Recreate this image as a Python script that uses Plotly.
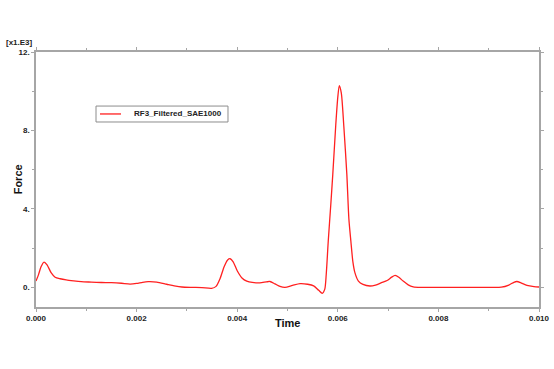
import plotly.graph_objects as go

time_s = [0.0000, 0.00005, 0.00010, 0.00016, 0.00022, 0.00030, 0.00038, 0.00048, 0.00060, 0.00075,
          0.00090, 0.00110, 0.00130, 0.00150, 0.00170, 0.00187, 0.00200, 0.00212, 0.00223, 0.00240,
          0.00260, 0.00275, 0.00290, 0.00310, 0.00330, 0.00349, 0.00358, 0.00366, 0.00374, 0.00381,
          0.00386, 0.00392, 0.00400, 0.00410, 0.00419, 0.00430, 0.00445, 0.00458, 0.00465, 0.00475,
          0.00485, 0.00495, 0.00510, 0.00525, 0.00540, 0.00552, 0.00562, 0.00569, 0.00574, 0.00577,
          0.00581, 0.00586, 0.00590, 0.00596, 0.00600, 0.00603, 0.00607, 0.00612, 0.00618, 0.00622,
          0.00626, 0.00630, 0.00634, 0.00641, 0.00650, 0.00664, 0.00675, 0.00687, 0.00698, 0.00707,
          0.00714, 0.00722, 0.00730, 0.00740, 0.00750, 0.00765, 0.00800, 0.00850, 0.00900, 0.00925,
          0.00940, 0.00950, 0.00956, 0.00965, 0.00976, 0.00990, 0.01000]
force_k = [0.32, 0.65, 1.05, 1.29, 1.15, 0.75, 0.52, 0.44, 0.38, 0.33,
           0.29, 0.27, 0.25, 0.24, 0.21, 0.17, 0.20, 0.26, 0.29, 0.27,
           0.16, 0.08, 0.02, 0.00, -0.01, -0.05, 0.05, 0.45, 1.05, 1.40,
           1.46, 1.30, 0.85, 0.47, 0.32, 0.25, 0.23, 0.28, 0.30, 0.18,
           0.05, 0.00, 0.10, 0.19, 0.16, 0.08, -0.15, -0.30, -0.10, 0.66,
           2.35, 4.20, 5.75, 8.30, 9.70, 10.29, 9.90, 8.20, 5.75, 3.50,
           2.35, 1.30, 0.75, 0.32, 0.15, 0.07, 0.12, 0.24, 0.35, 0.52,
           0.61, 0.50, 0.32, 0.13, 0.03, 0.00, 0.00, 0.00, 0.00, 0.01,
           0.12, 0.26, 0.30, 0.22, 0.10, 0.04, 0.02]

series_name = "RF3_Filtered_SAE1000"

AX = "#a6a6a6"
RED = "#ff2020"
FONT = "Liberation Sans, Arial, sans-serif"

fig = go.Figure()
fig.add_trace(go.Scatter(x=time_s, y=force_k, mode="lines", name=series_name, showlegend=False,
                         line=dict(color=RED, width=1.3, shape="spline", smoothing=0.7)))

fig.update_layout(
    width=554, height=369,
    margin=dict(l=36, r=15, t=52, b=62, autoexpand=False),
    paper_bgcolor="white", plot_bgcolor="white",
    showlegend=False,
    font=dict(family=FONT, size=8, color="#222222"),
)

fig.update_xaxes(range=[0, 0.01], tickmode="linear", tick0=0, dtick=0.002, tickformat=".3f",
                 automargin=False,
                 showgrid=False, zeroline=False, showline=True, linecolor=AX, linewidth=1.5,
                 mirror="ticks", ticks="outside", ticklen=3, tickcolor=AX,
                 tickfont=dict(family=FONT, size=8, color="#222222", weight="bold"),
                 minor=dict(dtick=0.001, ticks="outside", ticklen=2, tickcolor=AX))
fig.update_yaxes(range=[-1, 12], tickmode="linear", tick0=0, dtick=4, tickformat="d", ticksuffix=".",
                 automargin=False,
                 showgrid=False, zeroline=False, showline=True, linecolor=AX, linewidth=1.5,
                 mirror="ticks", ticks="outside", ticklen=3, tickcolor=AX,
                 tickfont=dict(family=FONT, size=8, color="#222222", weight="bold"),
                 minor=dict(dtick=2, tick0=0, ticks="outside", ticklen=2, tickcolor=AX))

# legend box (drawn as shapes + text)
fig.add_shape(type="rect", xref="paper", yref="paper", x0=0.1193, x1=0.3817, y0=0.7255, y1=0.788,
              line=dict(color="#8c8c8c", width=1), fillcolor="white", layer="above")
fig.add_shape(type="line", xref="paper", yref="paper", x0=0.1272, x1=0.169, y0=0.757, y1=0.757,
              line=dict(color=RED, width=1.3), layer="above")
fig.add_annotation(text=series_name, xref="paper", yref="paper", x=0.190, y=0.757,
                   xanchor="left", yanchor="middle", showarrow=False,
                   font=dict(family=FONT, size=8, color="#222222", weight="bold"))

fig.add_annotation(text="Time", xref="paper", yref="paper", x=0.5, y=-0.063, yanchor="middle",
                   showarrow=False, font=dict(family=FONT, size=11, color="#111111", weight="bold"))
fig.add_annotation(text="Force", xref="paper", yref="paper", x=-0.052, y=0.5, textangle=-90,
                   showarrow=False, font=dict(family=FONT, size=11, color="#111111", weight="bold"))
fig.add_annotation(text="[x1.E3]", xref="paper", yref="paper", x=-0.064, y=1.0, yanchor="bottom",
                   xanchor="left", yshift=3,
                   showarrow=False, font=dict(family=FONT, size=8, color="#222222", weight="bold"))

fig.write_html("out.html")
